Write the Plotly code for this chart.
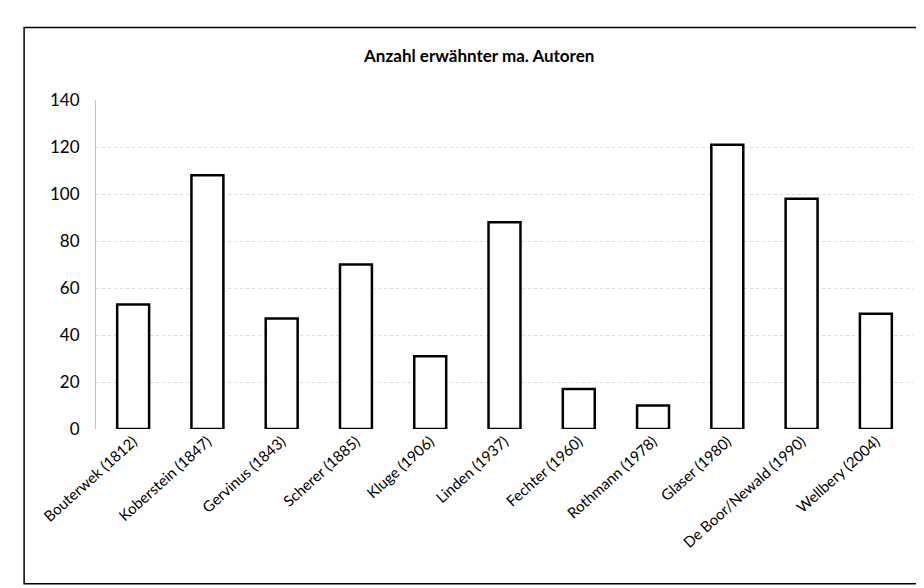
import plotly.graph_objects as go

categories = ["Bouterwek (1812)", "Koberstein (1847)", "Gervinus (1843)", "Scherer (1885)",
              "Kluge (1906)", "Linden (1937)", "Fechter (1960)", "Rothmann (1978)",
              "Glaser (1980)", "De Boor/Newald (1990)", "Wellbery (2004)"]
values = [53, 108, 47, 70, 31, 88, 17, 10, 121, 98, 49]
y_ticks = [0, 20, 40, 60, 80, 100, 120, 140]

fig = go.Figure(go.Bar(
    x=categories, y=values,
    marker=dict(color="white", line=dict(color="black", width=2.5)),
))

fig.update_layout(
    width=924, height=588,
    margin=dict(l=88, r=19, t=92, b=167),
    paper_bgcolor="white", plot_bgcolor="white",
    bargap=0.57,
    showlegend=False,
    font=dict(family="Lato, Open Sans, sans-serif", color="black"),
    title=dict(text="Anzahl erwähnter ma. Autoren", x=0.51, xanchor="center",
               y=1 - 48 / 588, yanchor="middle",
               font=dict(size=17, color="black", family="Lato, sans-serif", weight="bold")),
    xaxis=dict(tickangle=-42, tickfont=dict(size=15), showgrid=False,
               showline=False, ticks=""),
    yaxis=dict(range=[0, 140], tickvals=y_ticks, tickfont=dict(size=17),
               showgrid=True, gridcolor="#dadada", griddash="dot", gridwidth=1,
               zeroline=False, showline=True, linecolor="#c0c0c0",
               ticks="", ticklabelstandoff=12),
    shapes=[dict(type="rect", xref="paper", yref="paper",
                 x0=-0.088, x1=1.016, y0=-0.47, y1=1.22,
                 line=dict(color="black", width=1.5))],
)

fig.write_html("out.html")
